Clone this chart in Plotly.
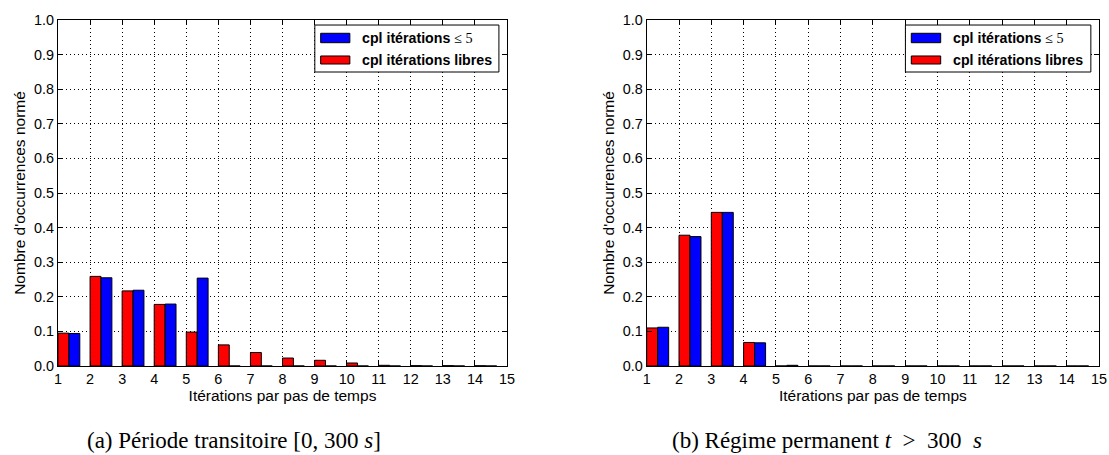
import plotly.graph_objects as go

# ---- data ----
iterations = list(range(1, 15))
x_ticks = list(range(1, 16))
y_ticks = [round(0.1 * i, 1) for i in range(11)]

trans_libres = [0.095, 0.259, 0.217, 0.178, 0.098, 0.061, 0.039, 0.023, 0.0165, 0.0087, 0.002, 0.001, 0.001, 0.0007]
trans_max5 = [0.094, 0.255, 0.219, 0.179, 0.254, 0, 0, 0, 0, 0, 0, 0, 0, 0]
perm_libres = [0.110, 0.378, 0.444, 0.068, 0, 0, 0, 0, 0, 0, 0, 0, 0, 0]
perm_max5 = [0.112, 0.374, 0.444, 0.067, 0.002, 0, 0, 0, 0, 0, 0, 0, 0, 0]

label_max5 = "<b>cpl itérations</b> <span style='font-family:Liberation Serif;font-weight:normal'>≤ 5</span>"
label_libres = "<b>cpl itérations libres</b>"
x_title = "Itérations par pas de temps"
y_title = "Nombre d'occurrences normé"
caption_a = "(a) Période transitoire [0, 300 <i>s</i>]"
caption_b = "(b) Régime permanent <i>t</i>&nbsp; &gt;&nbsp; 300&nbsp; <i>s</i>"

RED = "#ff0000"
BLUE = "#0000ff"
W = 1109
H = 455


def px(x):
    return x / W


def py(y):
    return (H - y) / H


fig = go.Figure()
for xa, ya, libres, max5 in [("x", "y", trans_libres, trans_max5),
                             ("x2", "y2", perm_libres, perm_max5)]:
    fig.add_trace(go.Bar(x=iterations, y=libres, xaxis=xa, yaxis=ya, width=0.34, offset=0.0,
                         marker=dict(color=RED, line=dict(color="black", width=1)),
                         name="cpl itérations libres", showlegend=False))
    fig.add_trace(go.Bar(x=iterations, y=max5, xaxis=xa, yaxis=ya, width=0.34, offset=0.34,
                         marker=dict(color=BLUE, line=dict(color="black", width=1)),
                         name="cpl itérations ≤ 5", showlegend=False))

ydom = [py(366), py(20)]
xdom1 = [px(58), px(507)]
xdom2 = [px(646.7), px(1099)]

axis_common = dict(showline=True, linecolor="black", linewidth=1, mirror="ticks",
                   ticks="inside", ticklen=5, tickcolor="black", automargin=False,
                   showgrid=True, gridcolor="black", gridwidth=1, griddash="1px,3px",
                   zeroline=False, tickfont=dict(family="Liberation Sans", size=14.4, color="black"))


def xaxis(dom, anchor):
    return dict(domain=dom, anchor=anchor, range=[1, 15], tickvals=x_ticks,
                title=dict(text=x_title, font=dict(family="Liberation Sans", size=15.5, color="black"), standoff=3),
                **axis_common)


def yaxis(anchor):
    return dict(domain=ydom, anchor=anchor, range=[0, 1], tickvals=y_ticks, tickformat=".1f",
                title=dict(text=y_title, font=dict(family="Liberation Sans", size=15.5, color="black"), standoff=4),
                **axis_common)


shapes = []
annotations = []
for xr, yr in [("x domain", "y domain"), ("x2 domain", "y2 domain")]:
    shapes.append(dict(type="rect", xref=xr, yref=yr, x0=0.572, x1=0.982, y0=0.8497, y1=0.9855,
                       line=dict(color="black", width=1), fillcolor="white", layer="above"))
    shapes.append(dict(type="rect", xref=xr, yref=yr, x0=0.585, x1=0.650, y0=0.9344, y1=0.9616,
                       line=dict(color="black", width=1), fillcolor=BLUE, layer="above"))
    shapes.append(dict(type="rect", xref=xr, yref=yr, x0=0.585, x1=0.650, y0=0.8728, y1=0.8960,
                       line=dict(color="black", width=1), fillcolor=RED, layer="above"))
    annotations.append(dict(xref=xr, yref=yr, x=0.672, y=0.948, text=label_max5, showarrow=False,
                            xanchor="left", yanchor="middle",
                            font=dict(family="Liberation Sans", size=14.2, color="black")))
    annotations.append(dict(xref=xr, yref=yr, x=0.672, y=0.884, text=label_libres, showarrow=False,
                            xanchor="left", yanchor="middle",
                            font=dict(family="Liberation Sans", size=14.2, color="black")))

annotations.append(dict(xref="paper", yref="paper", x=px(85), y=py(440), text=caption_a,
                        showarrow=False, xanchor="left", yanchor="middle",
                        font=dict(family="Liberation Serif", size=23, color="black")))
annotations.append(dict(xref="paper", yref="paper", x=px(670), y=py(440), text=caption_b,
                        showarrow=False, xanchor="left", yanchor="middle",
                        font=dict(family="Liberation Serif", size=23, color="black")))

fig.update_layout(
    width=W, height=H, margin=dict(l=0, r=0, t=0, b=0),
    paper_bgcolor="white", plot_bgcolor="white",
    barmode="overlay", showlegend=False,
    xaxis=xaxis(xdom1, "y"), yaxis=yaxis("x"),
    xaxis2=xaxis(xdom2, "y2"), yaxis2=yaxis("x2"),
    shapes=shapes, annotations=annotations,
)

fig.write_html("out.html", config={"displayModeBar": False},
               post_script="document.body.style.margin='0';document.body.style.overflow='hidden';")
